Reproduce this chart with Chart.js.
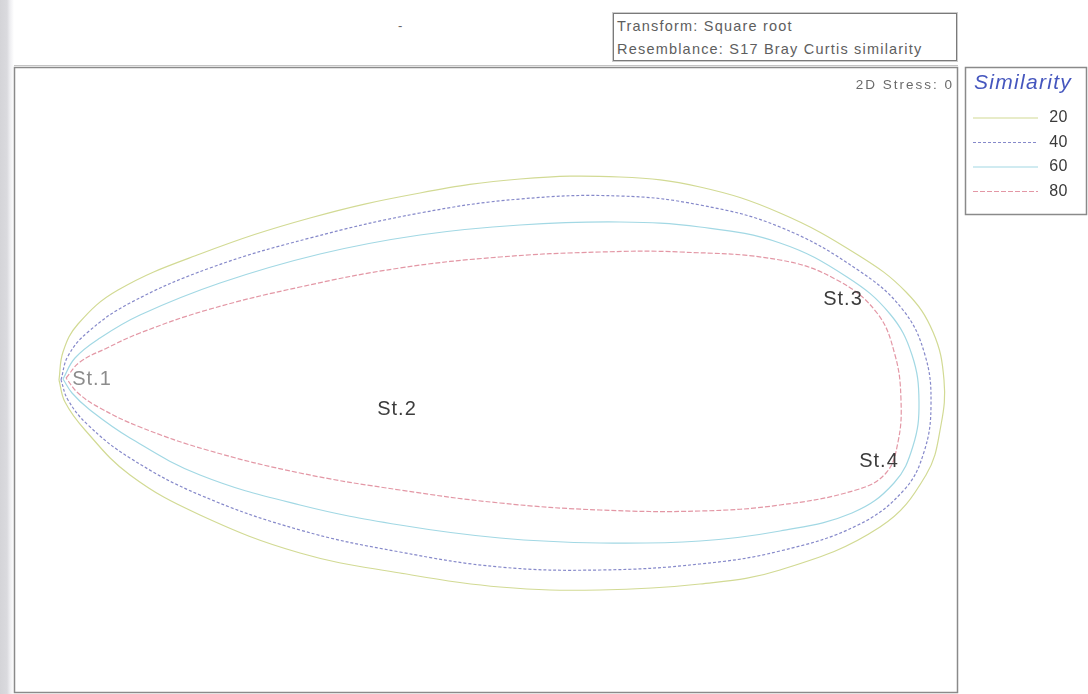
<!DOCTYPE html>
<html>
<head>
<meta charset="utf-8">
<title>nMDS - Similarity contours</title>
<script src="https://cdn.jsdelivr.net/npm/chart.js@4/dist/chart.umd.min.js"></script>
<style>
  html, body { margin: 0; padding: 0; }
  body {
    width: 1088px; height: 694px; overflow: hidden; position: relative;
    background: linear-gradient(to right, #d4d4d8 0px, #dadade 7px, #eeeef1 10px, #ffffff 14px);
    font-family: "Liberation Sans", Arial, sans-serif;
  }
  #wrap { position: absolute; left: 0; top: 0; width: 1088px; height: 694px; }
  #info {
    position: absolute; left: 613px; top: 13px; width: 344px; height: 48px;
    border: 1px solid #7a7a7a; box-shadow: 0 0 0 1px #cdcdcd;
    font-size: 14.5px; letter-spacing: 1.2px; color: #5e5e5e; line-height: 23px;
    padding-left: 3px; padding-top: 1px; box-sizing: border-box; background: #fff;
    white-space: nowrap;
  }
  #speck { position: absolute; left: 398px; top: 18px; font-size: 13px; color: #666; }
</style>
</head>
<body>
<div id="speck">-</div>
<div id="info">Transform: Square root<br>Resemblance: S17 Bray Curtis similarity</div>
<div id="wrap"><canvas id="c" width="1088" height="694"></canvas></div>
<script>
// Sample stations (2D ordination coordinates)
const stationNames = ["St.1", "St.2", "St.3", "St.4"];
const stationX = [-3.94, -0.89, 3.57, 3.93];
const stationY = [0.01, -0.29, 0.81, -0.81];

// Cluster similarity levels overlaid as contours
const similarityLevels = ["20", "40", "60", "80"];

// Contour outlines, [x, y] in ordination units
const contour20 = [
  [-4.27, 0.00], [-4.23, 0.28], [-4.08, 0.56], [-3.68, 0.90], [-2.86, 1.26], [-1.76, 1.62],
  [-0.66, 1.87], [0.34, 2.01], [1.34, 2.03], [2.14, 1.93], [2.94, 1.67], [3.72, 1.25],
  [4.20, 0.88], [4.47, 0.48], [4.58, 0.00], [4.55, -0.45], [4.40, -0.95], [3.94, -1.47],
  [2.94, -1.90], [2.14, -2.04], [1.14, -2.10], [0.14, -2.07], [-0.86, -1.93], [-1.86, -1.73],
  [-2.86, -1.35], [-3.56, -0.95], [-4.01, -0.50], [-4.21, -0.22], [-4.27, 0.00]
];
const contour40 = [
  [-4.25, 0.00], [-4.18, 0.24], [-3.98, 0.48], [-3.56, 0.77], [-2.76, 1.12], [-1.76, 1.42],
  [-0.66, 1.67], [0.34, 1.81], [1.34, 1.84], [2.14, 1.75], [2.94, 1.53], [3.72, 1.10],
  [4.17, 0.70], [4.39, 0.25], [4.45, -0.25], [4.38, -0.72], [4.18, -1.10], [3.72, -1.45],
  [2.94, -1.71], [2.14, -1.84], [1.14, -1.90], [0.14, -1.87], [-0.86, -1.72], [-1.86, -1.50],
  [-2.86, -1.15], [-3.56, -0.78], [-3.98, -0.45], [-4.18, -0.20], [-4.25, 0.00]
];
const contour60 = [
  [-4.23, 0.01], [-4.11, 0.22], [-3.86, 0.42], [-3.46, 0.65], [-2.66, 0.97], [-1.66, 1.26],
  [-0.66, 1.45], [0.34, 1.55], [1.34, 1.58], [2.14, 1.53], [2.94, 1.37], [3.61, 1.03],
  [4.04, 0.66], [4.26, 0.25], [4.33, -0.22], [4.27, -0.66], [4.08, -1.03], [3.66, -1.33],
  [2.94, -1.51], [2.14, -1.61], [1.14, -1.63], [0.14, -1.58], [-0.86, -1.45], [-1.86, -1.25],
  [-2.86, -0.95], [-3.56, -0.58], [-3.96, -0.30], [-4.14, -0.13], [-4.23, 0.01]
];
const contour80 = [
  [-4.20, 0.02], [-4.06, 0.18], [-3.79, 0.32], [-3.46, 0.47], [-2.79, 0.70], [-1.86, 0.93],
  [-0.86, 1.12], [0.14, 1.23], [1.14, 1.28], [1.94, 1.28], [2.94, 1.20], [3.51, 1.00],
  [3.91, 0.67], [4.09, 0.25], [4.15, -0.20], [4.12, -0.62], [4.00, -0.93], [3.70, -1.10],
  [2.94, -1.25], [2.14, -1.31], [1.14, -1.30], [0.14, -1.23], [-0.86, -1.10], [-1.86, -0.93],
  [-2.79, -0.70], [-3.46, -0.47], [-3.86, -0.28], [-4.08, -0.13], [-4.20, 0.02]
];

const contourStyles = [
  { color: "#d2da94", dash: [] },
  { color: "#8689ca", dash: [3, 2] },
  { color: "#a2d8e4", dash: [] },
  { color: "#e397a5", dash: [5, 2] }
];
const contours = [contour20, contour40, contour60, contour80];

const toPoints = arr => arr.map(p => ({ x: p[0], y: p[1] }));

const datasets = contours.map((c, i) => ({
  label: similarityLevels[i],
  data: toPoints(c),
  showLine: true,
  fill: false,
  tension: 0.4,
  borderColor: contourStyles[i].color,
  borderDash: contourStyles[i].dash,
  borderWidth: 1.2,
  pointRadius: 0,
  pointHoverRadius: 0
}));
datasets.push({
  label: "stations",
  data: stationX.map((x, i) => ({ x: x, y: stationY[i] })),
  pointRadius: 0,
  pointHoverRadius: 0,
  showLine: false
});

// Frame, station labels, stress note and similarity key
const decorations = {
  id: "decorations",
  afterDatasetsDraw(chart) {
    const { ctx, chartArea: a, scales } = chart;
    ctx.save();
    // plot frame
    ctx.strokeStyle = "#8a8a8a";
    ctx.lineWidth = 1.5;
    ctx.strokeRect(a.left + 0.5, a.top + 0.5, a.right - a.left - 1, a.bottom - a.top - 1);
    ctx.strokeStyle = "#c4c4c4";
    ctx.lineWidth = 1;
    ctx.beginPath();
    ctx.moveTo(a.left, a.top - 1.5); ctx.lineTo(a.right, a.top - 1.5);
    ctx.stroke();

    // station labels
    ctx.textAlign = "center";
    ctx.textBaseline = "middle";
    ctx.font = "20px 'Liberation Sans', Arial, sans-serif";
    ctx.letterSpacing = "1px";
    stationNames.forEach((name, i) => {
      ctx.fillStyle = i === 0 ? "#8c8c8c" : "#3c3c3c";
      ctx.fillText(name, scales.x.getPixelForValue(stationX[i]), scales.y.getPixelForValue(stationY[i]));
    });

    // stress note
    ctx.textAlign = "right";
    ctx.font = "13.5px 'Liberation Sans', Arial, sans-serif";
    ctx.letterSpacing = "2px";
    ctx.fillStyle = "#6a6a6a";
    ctx.fillText("2D Stress: 0", a.right - 4, a.top + 18);

    // similarity key
    const kx = a.right + 7, ky = a.top, kw = 121, kh = 147;
    ctx.strokeStyle = "#8a8a8a";
    ctx.lineWidth = 1.5;
    ctx.strokeRect(kx + 0.5, ky + 0.5, kw, kh);
    ctx.textAlign = "left";
    ctx.font = "italic 21px 'Liberation Sans', Arial, sans-serif";
    ctx.letterSpacing = "1.3px";
    ctx.fillStyle = "#4556be";
    ctx.fillText("Similarity", kx + 9, ky + 16);
    ctx.font = "16px 'Liberation Sans', Arial, sans-serif";
    ctx.letterSpacing = "0.5px";
    similarityLevels.forEach((lvl, i) => {
      const y = ky + 51 + i * 24.5;
      ctx.strokeStyle = contourStyles[i].color;
      ctx.setLineDash(contourStyles[i].dash);
      ctx.lineWidth = 1.2;
      ctx.beginPath();
      ctx.moveTo(kx + 8, y); ctx.lineTo(kx + 73, y);
      ctx.stroke();
      ctx.setLineDash([]);
      ctx.fillStyle = "#3a3a3a";
      ctx.textAlign = "right";
      ctx.fillText(lvl, kx + 103, y);
      ctx.textAlign = "left";
    });
    ctx.restore();
  }
};

new Chart(document.getElementById("c"), {
  type: "scatter",
  data: { datasets },
  options: {
    responsive: false,
    animation: false,
    layout: { padding: { left: 14, top: 67, right: 130, bottom: 1 } },
    plugins: { legend: { display: false }, tooltip: { enabled: false } },
    scales: {
      x: { type: "linear", min: -4.72, max: 4.72, display: false },
      y: { type: "linear", min: -3.13, max: 3.13, display: false }
    }
  },
  plugins: [decorations]
});
</script>
</body>
</html>
